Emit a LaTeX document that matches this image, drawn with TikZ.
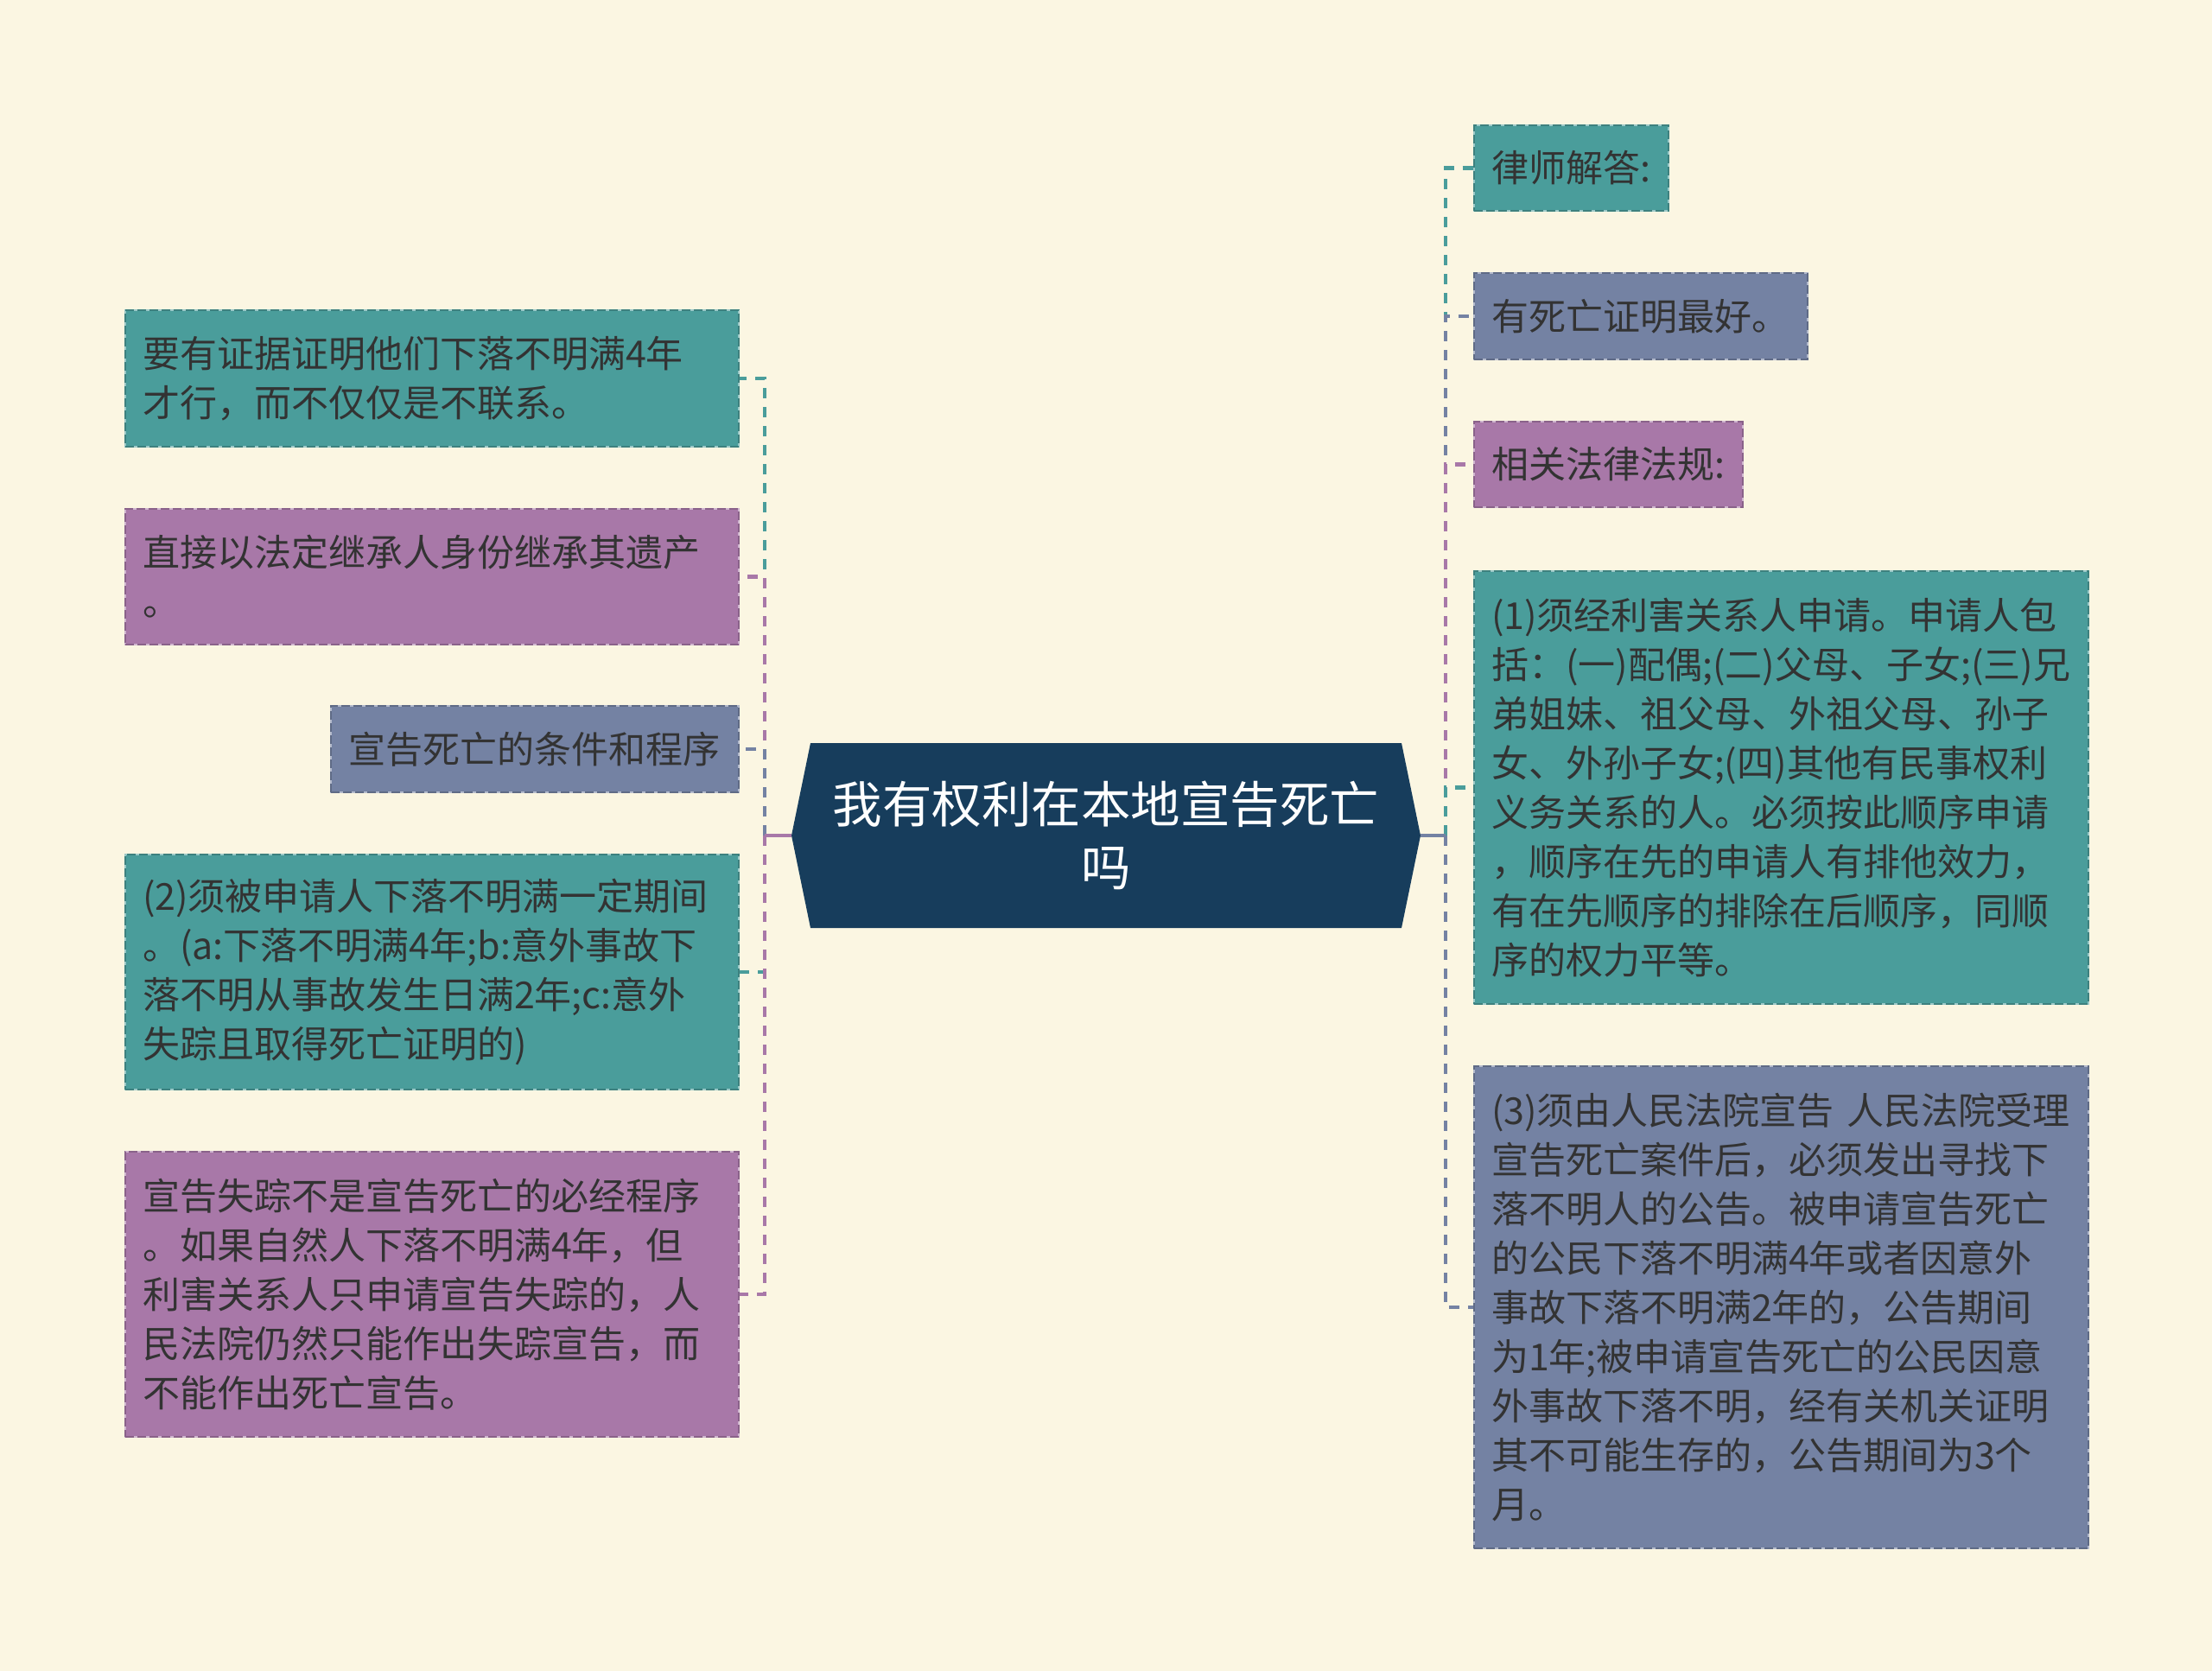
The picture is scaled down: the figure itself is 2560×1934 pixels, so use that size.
\documentclass[tikz,border=0pt]{standalone}
\usepackage{fontspec}
\setmainfont{Noto Sans CJK SC}
\definecolor{bg}{HTML}{FBF6E2}
\definecolor{cteal}{HTML}{4A9D9B}
\definecolor{cpurp}{HTML}{A878A8}
\definecolor{cslate}{HTML}{7482A3}
\definecolor{cnavy}{HTML}{173D5C}
\definecolor{txt}{HTML}{333333}
\tikzset{
  box/.style={rectangle, fill=#1, draw=#1!55!white, line width=2pt,
    inner xsep=20pt, inner ysep=0pt, anchor=north west, align=left,
    text=txt, font=\fontsize{43}{57}\selectfont,
    postaction={draw=#1!82!black, dash pattern=on 10pt off 4pt, line width=2pt}},
  conn/.style={draw=#1, line width=4.5pt, dash pattern=on 12pt off 10pt},
  stub/.style={draw=#1, line width=4.5pt},
}
\begin{document}
\begin{tikzpicture}[x=1pt,y=-1pt]
\useasboundingbox (0,0) rectangle (2560,1934);
\fill[bg] (0,0) rectangle (2560,1934);

% centre
\fill[cnavy] (916,967) -- (938,860) -- (1622,860) -- (1644,967) -- (1622,1074) -- (938,1074) -- cycle;
\node[minimum width=728pt, minimum height=214pt, inner sep=0pt, align=center, text=white,
  font=\fontsize{57.5}{73}\selectfont] (c) at (1280,967) {我有权利在本地宣告死亡\\吗};

\coordinate (lt) at (885,967);
\coordinate (rt) at (1673,967);

% left boxes
\node[box=cteal, minimum width=710pt, minimum height=158pt, text width=670pt] (L1) at (144,358)
  {要有证据证明他们下落不明满4年\\才行，而不仅仅是不联系。};
\node[box=cpurp, minimum width=710pt, minimum height=157pt, text width=670pt] (L2) at (144,588)
  {直接以法定继承人身份继承其遗产\\。};
\node[box=cslate, minimum width=472pt, minimum height=100pt, text width=432pt] (L3) at (382,816)
  {宣告死亡的条件和程序};
\node[box=cteal, minimum width=710pt, minimum height=272pt, text width=670pt] (L4) at (144,988)
  {(2)须被申请人下落不明满一定期间\\。(a:下落不明满4年;b:意外事故下\\落不明从事故发生日满2年;c:意外\\失踪且取得死亡证明的)};
\node[box=cpurp, minimum width=710pt, minimum height=330pt, text width=670pt] (L5) at (144,1332)
  {宣告失踪不是宣告死亡的必经程序\\。如果自然人下落不明满4年，但\\利害关系人只申请宣告失踪的，人\\民法院仍然只能作出失踪宣告，而\\不能作出死亡宣告。};

% right boxes
\node[box=cteal, minimum width=225pt, minimum height=99pt, text width=185pt] (R1) at (1705,144)
  {律师解答:};
\node[box=cslate, minimum width=386pt, minimum height=100pt, text width=346pt] (R2) at (1705,315)
  {有死亡证明最好。};
\node[box=cpurp, minimum width=311pt, minimum height=99pt, text width=271pt] (R3) at (1705,487)
  {相关法律法规:};
\node[box=cteal, minimum width=711pt, minimum height=501pt, text width=671pt] (R4) at (1705,660)
  {(1)须经利害关系人申请。申请人包\\括：(一)配偶;(二)父母、子女;(三)兄\\弟姐妹、祖父母、外祖父母、孙子\\女、外孙子女;(四)其他有民事权利\\义务关系的人。必须按此顺序申请\\，顺序在先的申请人有排他效力，\\有在先顺序的排除在后顺序，同顺\\序的权力平等。};
\node[box=cslate, minimum width=711pt, minimum height=558pt, text width=671pt] (R5) at (1705,1233)
  {(3)须由人民法院宣告~人民法院受理\\宣告死亡案件后，必须发出寻找下\\落不明人的公告。被申请宣告死亡\\的公民下落不明满4年或者因意外\\事故下落不明满2年的，公告期间\\为1年;被申请宣告死亡的公民因意\\外事故下落不明，经有关机关证明\\其不可能生存的，公告期间为3个\\月。};

% connectors left
\draw[conn=cteal] (lt) |- (L1.east);
\draw[conn=cpurp] (lt) |- (L2.east);
\draw[conn=cslate] (lt) |- (L3.east);
\draw[conn=cteal] (lt) |- (L4.east);
\draw[conn=cpurp] (lt) |- (L5.east);
\draw[stub=cpurp] (c.west) -- (lt);

% connectors right
\draw[conn=cteal] (rt) |- (R1.west);
\draw[conn=cslate] (rt) |- (R2.west);
\draw[conn=cpurp] (rt) |- (R3.west);
\draw[conn=cteal] (rt) |- (R4.west);
\draw[conn=cslate] (rt) |- (R5.west);
\draw[stub=cslate] (c.east) -- (rt);
\end{tikzpicture}
\end{document}
